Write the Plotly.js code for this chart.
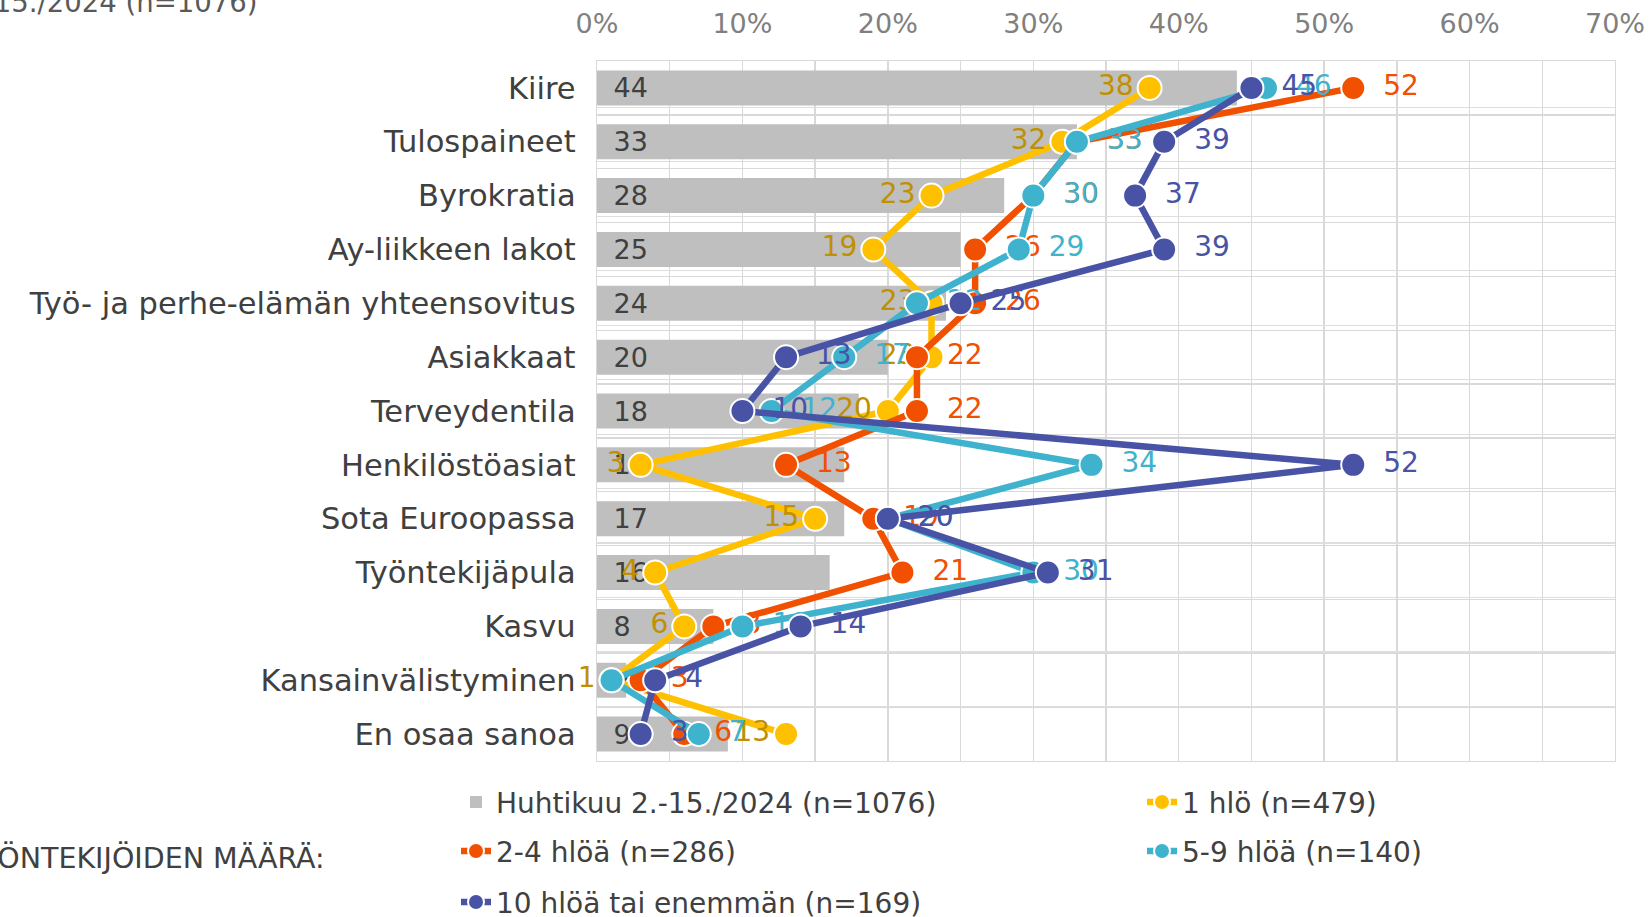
<!DOCTYPE html>
<html>
<head>
<meta charset="utf-8">
<script src="https://cdn.plot.ly/plotly-3.0.1.min.js"></script>
<style>html,body{margin:0;padding:0;background:#fff;}#chart{width:1650px;height:917px;}</style>
</head>
<body>
<div id="chart"></div>
<script>
const categories = ["Kiire","Tulospaineet","Byrokratia","Ay-liikkeen lakot","Työ- ja perhe-elämän yhteensovitus","Asiakkaat","Terveydentila","Henkilöstöasiat","Sota Euroopassa","Työntekijäpula","Kasvu","Kansainvälistyminen","En osaa sanoa"];
const total2024 = [44,33,28,25,24,20,18,17,17,16,8,2,9];
const hlo1 = [38,32,23,19,23,23,20,3,15,4,6,1,13];
const hlo2to4 = [52,33,30,26,26,22,22,13,19,21,8,3,6];
const hlo5to9 = [46,33,30,29,22,17,12,34,20,30,10,1,7];
const hlo10plus = [45,39,37,39,25,13,10,52,20,31,14,4,3];
const xTicks = [0,10,20,30,40,50,60,70];

const seriesNames = ["Huhtikuu 2.-15./2024 (n=1076)","1 hlö (n=479)","2-4 hlöä (n=286)","5-9 hlöä (n=140)","10 hlöä tai enemmän (n=169)"];

const FONT = "DejaVu Sans, Verdana, sans-serif";

function lineTrace(name, vals, color, textColor, pos, prefix, legendId) {
  return {
    type: 'scatter', mode: 'lines+markers+text', name: name, legend: legendId,
    x: vals, y: categories,
    line: {color: color, width: 6.5},
    marker: {color: color, size: 24, line: {color: '#ffffff', width: 2}},
    text: vals.map(v => prefix + v), textposition: pos,
    textfont: {family: FONT, size: 28, color: textColor},
    cliponaxis: false, hoverinfo: 'x+name'
  };
}

const traces = [
  {
    type: 'bar', orientation: 'h', name: seriesNames[0], legend: 'legend',
    x: total2024, y: categories,
    marker: {color: '#BFBFBF'},
    text: total2024.map(v => '\u2002' + v), textposition: 'inside', insidetextanchor: 'start',
    constraintext: 'none', textangle: 0,
    insidetextfont: {family: FONT, size: 27, color: '#404040'},
    hoverinfo: 'x'
  },
  lineTrace(seriesNames[1], hlo1, '#FFC000', '#BF9000', 'middle left', '', 'legend2'),
  lineTrace(seriesNames[2], hlo2to4, '#F05000', '#F05000', 'middle right', '\u2002', 'legend3'),
  lineTrace(seriesNames[3], hlo5to9, '#3FB3CD', '#3FB3CD', 'middle right', '\u2002', 'legend4'),
  lineTrace(seriesNames[4], hlo10plus, '#4853A6', '#4853A6', 'middle right', '\u2002', 'legend5'),
  {type: 'scatter', x: [], y: [], yaxis: 'y2', showlegend: false, hoverinfo: 'skip'}
];

function leg(xpx, ytop) {
  return {
    orientation: 'h', x: (xpx - 597) / 1018, xanchor: 'left',
    y: (760.7 - ytop) / 700, yanchor: 'top',
    font: {family: FONT, size: 28, color: '#404040'},
    bgcolor: 'rgba(0,0,0,0)', borderwidth: 0
  };
}

const layout = {
  width: 1650, height: 917,
  margin: {l: 597, r: 35, t: 61, b: 156, autoexpand: false},
  paper_bgcolor: '#ffffff', plot_bgcolor: '#ffffff',
  font: {family: FONT, color: '#404040'},
  bargap: 0.35,
  showlegend: true,
  xaxis: {
    side: 'top', range: [0, 70], tickvals: xTicks, ticktext: xTicks.map(v => v + '%'),
    tickfont: {family: FONT, size: 27, color: '#808080'},
    showgrid: true, gridcolor: '#D9D9D9', gridwidth: 1.3,
    minor: {dtick: 5, showgrid: true, gridcolor: '#D9D9D9', gridwidth: 1.3},
    zeroline: false, showline: true, mirror: true, linecolor: '#D9D9D9', linewidth: 1.3,
    ticks: '', ticklabelstandoff: 16, fixedrange: true, automargin: false
  },
  yaxis: {
    type: 'category', categoryorder: 'array', categoryarray: categories,
    range: [12.5, -0.5], tickson: 'boundaries',
    showgrid: true, gridcolor: '#D9D9D9', gridwidth: 1.3,
    tickfont: {family: FONT, size: 30.5, color: '#404040'},
    ticks: '', ticklabelstandoff: 14,
    showline: true, mirror: true, linecolor: '#D9D9D9', linewidth: 1.3,
    zeroline: false, fixedrange: true, automargin: false
  },
  yaxis2: {
    overlaying: 'y', side: 'right', range: [0, 12.85], dtick: 1,
    showgrid: true, gridcolor: '#DEDEDE', gridwidth: 1.3,
    showticklabels: false, ticks: '', zeroline: false, showline: false, fixedrange: true
  },
  legend: leg(456, 777),
  legend2: leg(1142, 777),
  legend3: leg(456, 826),
  legend4: leg(1142, 826),
  legend5: leg(456, 877),
  annotations: [
    {xref: 'paper', yref: 'paper', x: (259 - 597) / 1018, y: 1.085, xanchor: 'right', yanchor: 'middle',
     text: 'Huhtikuu 2.-15./2024 (n=1076)', showarrow: false,
     font: {family: FONT, size: 27.5, color: '#595959'}},
    {xref: 'paper', yref: 'paper', x: (327 - 597) / 1018, y: -0.139, xanchor: 'right', yanchor: 'middle',
     text: 'TYÖNTEKIJÖIDEN MÄÄRÄ:', showarrow: false,
     font: {family: FONT, size: 28.5, color: '#404040'}}
  ]
};

Plotly.newPlot('chart', traces, layout, {displayModeBar: false, staticPlot: true});
</script>
</body>
</html>
